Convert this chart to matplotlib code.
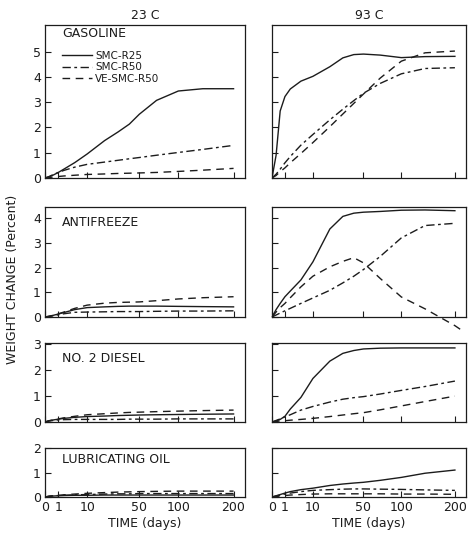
import numpy as np
import matplotlib
matplotlib.use("Agg")
import matplotlib.pyplot as plt
from matplotlib.lines import Line2D

# time points (days) the curves were read at
days = [0, 0.1, 0.4, 1, 2, 5, 10, 20, 30, 40, 50, 70, 100, 140, 200]
af93_ve_days = [0, 0.1, 0.4, 1, 2, 5, 10, 20, 30, 40, 50, 70, 100, 140, 200, 222]

# weight change (percent), 23 C
gas23_r25 = [0, 0.05, 0.12, 0.22, 0.35, 0.61, 0.95, 1.48, 1.82, 2.13, 2.52, 3.07, 3.44, 3.53, 3.53]
gas23_r50 = [0, 0.06, 0.14, 0.22, 0.30, 0.43, 0.54, 0.63, 0.70, 0.76, 0.81, 0.90, 1.01, 1.13, 1.29]
gas23_ve = [0, 0.02, 0.04, 0.06, 0.08, 0.11, 0.14, 0.16, 0.18, 0.19, 0.20, 0.22, 0.26, 0.31, 0.38]
af23_r25 = [0, 0.03, 0.07, 0.12, 0.18, 0.30, 0.38, 0.41, 0.43, 0.44, 0.44, 0.44, 0.43, 0.42, 0.41]
af23_r50 = [0, 0.02, 0.05, 0.09, 0.13, 0.19, 0.20, 0.21, 0.22, 0.22, 0.22, 0.23, 0.24, 0.24, 0.25]
af23_ve = [0, 0.03, 0.07, 0.13, 0.20, 0.35, 0.48, 0.56, 0.59, 0.60, 0.61, 0.66, 0.73, 0.78, 0.82]
ds23_r25 = [0, 0.05, 0.08, 0.11, 0.14, 0.18, 0.21, 0.23, 0.25, 0.26, 0.27, 0.28, 0.29, 0.30, 0.31]
ds23_r50 = [0, 0.04, 0.06, 0.08, 0.09, 0.10, 0.10, 0.10, 0.10, 0.11, 0.11, 0.11, 0.12, 0.12, 0.12]
ds23_ve = [0, 0.05, 0.08, 0.12, 0.16, 0.22, 0.28, 0.32, 0.35, 0.37, 0.38, 0.40, 0.42, 0.44, 0.46]
lub23_r25 = [0, 0.03, 0.04, 0.05, 0.06, 0.07, 0.07, 0.08, 0.08, 0.08, 0.08, 0.08, 0.08, 0.08, 0.08]
lub23_r50 = [0, 0.03, 0.05, 0.06, 0.07, 0.09, 0.10, 0.12, 0.13, 0.13, 0.14, 0.14, 0.14, 0.14, 0.14]
lub23_ve = [0, 0.03, 0.05, 0.07, 0.09, 0.12, 0.15, 0.18, 0.20, 0.21, 0.22, 0.23, 0.24, 0.24, 0.24]

# weight change (percent), 93 C
gas93_r25 = [0, 0.90, 2.65, 3.22, 3.52, 3.83, 4.02, 4.40, 4.75, 4.88, 4.90, 4.86, 4.76, 4.80, 4.81]
gas93_r50 = [0, 0.15, 0.35, 0.60, 0.85, 1.30, 1.72, 2.30, 2.72, 3.06, 3.35, 3.74, 4.12, 4.33, 4.36]
gas93_ve = [0, 0.10, 0.25, 0.40, 0.60, 0.97, 1.40, 2.03, 2.53, 2.95, 3.32, 3.95, 4.62, 4.95, 5.02]
af93_r25 = [0, 0.30, 0.55, 0.82, 1.05, 1.50, 2.23, 3.56, 4.07, 4.20, 4.24, 4.27, 4.32, 4.33, 4.30]
af93_r50 = [0, 0.08, 0.16, 0.25, 0.35, 0.55, 0.77, 1.08, 1.38, 1.65, 1.92, 2.45, 3.20, 3.70, 3.79]
af93_ve = [0, 0.20, 0.38, 0.55, 0.78, 1.22, 1.65, 2.03, 2.25, 2.40, 2.19, 1.56, 0.81, 0.33, -0.35, -0.62]
ds93_r25 = [0, 0.04, 0.10, 0.22, 0.50, 0.95, 1.68, 2.35, 2.65, 2.76, 2.82, 2.85, 2.86, 2.86, 2.86]
ds93_r50 = [0, 0.06, 0.12, 0.20, 0.28, 0.46, 0.60, 0.77, 0.88, 0.94, 0.98, 1.08, 1.22, 1.37, 1.58]
ds93_ve = [0, 0.02, 0.04, 0.05, 0.07, 0.10, 0.14, 0.21, 0.27, 0.32, 0.36, 0.47, 0.62, 0.79, 1.00]
lub93_r25 = [0, 0.05, 0.10, 0.16, 0.22, 0.30, 0.36, 0.47, 0.53, 0.57, 0.60, 0.68, 0.80, 0.97, 1.10]
lub93_r50 = [0, 0.04, 0.08, 0.12, 0.16, 0.22, 0.27, 0.30, 0.32, 0.33, 0.33, 0.32, 0.31, 0.29, 0.27]
lub93_ve = [0, 0.02, 0.04, 0.06, 0.08, 0.10, 0.12, 0.13, 0.13, 0.13, 0.13, 0.13, 0.12, 0.12, 0.11]

fluids = ["GASOLINE", "ANTIFREEZE", "NO. 2 DIESEL", "LUBRICATING OIL"]
temps = ["23 C", "93 C"]
series_names = ["SMC-R25", "SMC-R50", "VE-SMC-R50"]
x_ticks = [0, 1, 10, 50, 100, 200]
x_ticklabels = ["0", "1", "10", "50", "100", "200"]

ink = "#1c1c1c"
styles = {
    "SMC-R25": dict(ls="-"),
    "SMC-R50": dict(ls=(0, (6, 2.5, 2, 2.5))),
    "VE-SMC-R50": dict(ls=(0, (5.5, 4))),
}

# panel frames in pixels (top, bottom) per row; the figure is 470x537
W, H = 470, 537
rows_px = [(25, 178), (207, 317), (343, 422), (448, 497)]
cols_px = [(45, 245), (272, 466)]
ylims = [(0, 6.05), (0, 4.45), (0, 3.05), (0, 2.0)]
yticks = [range(0, 6), range(0, 5), range(0, 4), range(0, 3)]
label_y = [0.945, 0.86, 0.80, 0.77]

data = {
    (0, 0): (gas23_r25, gas23_r50, gas23_ve),
    (0, 1): (gas93_r25, gas93_r50, gas93_ve),
    (1, 0): (af23_r25, af23_r50, af23_ve),
    (1, 1): (af93_r25, af93_r50, af93_ve),
    (2, 0): (ds23_r25, ds23_r50, ds23_ve),
    (2, 1): (ds93_r25, ds93_r50, ds93_ve),
    (3, 0): (lub23_r25, lub23_r50, lub23_ve),
    (3, 1): (lub93_r25, lub93_r50, lub93_ve),
}


def fwd(x):
    return np.sqrt(np.clip(x, 0, None))


def inv(x):
    return np.asarray(x) ** 2


plt.rcParams["font.family"] = ["DejaVu Sans"]
fig = plt.figure(figsize=(W / 100, H / 100), dpi=100)

for r, (top, bot) in enumerate(rows_px):
    for c, (left, right) in enumerate(cols_px):
        ax = fig.add_axes([left / W, 1 - bot / H, (right - left) / W, (bot - top) / H])
        ax.set_xscale("function", functions=(fwd, inv))
        ax.set_xlim(0, 225)
        ax.set_ylim(*ylims[r])
        for name, vals in zip(series_names, data[(r, c)]):
            t = af93_ve_days if len(vals) == len(af93_ve_days) else days
            ax.plot(t, vals, color=ink, lw=1.0, clip_on=(len(vals) == len(days)),
                    **styles[name])
        ax.set_xticks(x_ticks)
        ax.set_yticks(list(yticks[r]))
        ax.tick_params(direction="in", length=4, width=0.8, color=ink,
                       labelsize=9, labelcolor=ink, pad=3)
        if r < 3:
            ax.set_xticklabels([])
        else:
            ax.set_xticklabels(x_ticklabels)
            ax.set_xlabel("TIME (days)", fontsize=9, color=ink, labelpad=2)
        if c == 1:
            ax.set_yticklabels([])
        else:
            ax.text(0.085, label_y[r], fluids[r], transform=ax.transAxes,
                    fontsize=9, color=ink, va="center", ha="left")
        for sp in ax.spines.values():
            sp.set_color(ink)
            sp.set_linewidth(0.9)
        if r == 0:
            ax.set_title(temps[c], fontsize=9, color=ink, pad=4)
        if r == 0 and c == 0:
            handles = [Line2D([], [], color=ink, lw=1.0, **styles[n]) for n in series_names]
            ax.legend(handles, series_names, loc="upper left", bbox_to_anchor=(0.085, 0.83),
                      frameon=False, fontsize=7.5, handlelength=2.9, handletextpad=0.3,
                      labelspacing=0.12, borderpad=0, borderaxespad=0, labelcolor=ink)

fig.text(0.026, 0.48, "WEIGHT CHANGE (Percent)", rotation=90, fontsize=9,
         color=ink, ha="center", va="center")

fig.savefig("out.png", dpi=100)
